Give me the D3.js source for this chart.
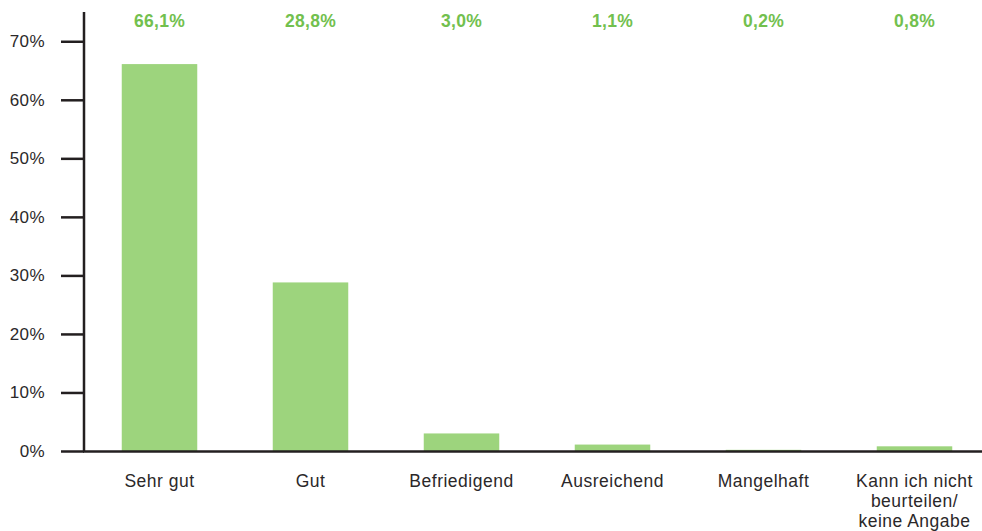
<!DOCTYPE html>
<html>
<head>
<meta charset="utf-8">
<script src="https://cdn.jsdelivr.net/npm/d3@7"></script>
<style>
  body { margin: 0; background: #fff; }
  svg { display: block; font-family: Arial, "Liberation Sans", sans-serif; }
</style>
</head>
<body>
<div id="chart"></div>
<script>
const categories = ["Sehr gut", "Gut", "Befriedigend", "Ausreichend", "Mangelhaft", "Kann ich nicht|beurteilen/|keine Angabe"];
const values = [66.1, 28.8, 3.0, 1.1, 0.2, 0.8];
const valueLabels = ["66,1%", "28,8%", "3,0%", "1,1%", "0,2%", "0,8%"];
const yTicks = [0, 10, 20, 30, 40, 50, 60, 70];

const dimension = {
    width: 982,
    height: 531,
    left: 84,
    bottom: 451,
    top: 12
};

const svg = d3.select("#chart").append("svg")
    .attr("width", dimension.width)
    .attr("height", dimension.height);

const xScaler = d3.scaleBand()
    .domain(categories)
    .range([dimension.left, dimension.left + 6 * 151])
    .paddingInner(0.5)
    .paddingOuter(0.25);

const yScaler = d3.scaleLinear()
    .domain([0, 75])
    .range([dimension.bottom, dimension.top]);

// bars
svg.append("g").selectAll("rect")
    .data(values)
    .join("rect")
    .attr("x", (d, i) => xScaler(categories[i]))
    .attr("width", xScaler.bandwidth())
    .attr("y", d => yScaler(d))
    .attr("height", d => yScaler(0) - yScaler(d))
    .attr("fill", "#9dd47d");

// value labels on top
svg.append("g").selectAll("text")
    .data(valueLabels)
    .join("text")
    .attr("x", (d, i) => xScaler(categories[i]) + xScaler.bandwidth() / 2)
    .attr("y", 27)
    .attr("text-anchor", "middle")
    .attr("font-size", 17.5)
    .attr("letter-spacing", 0.3)
    .attr("font-weight", "bold")
    .attr("fill", "#72c04e")
    .text(d => d);

// y axis
const yAxis = svg.append("g")
    .attr("transform", `translate(${dimension.left},0)`)
    .call(d3.axisLeft(yScaler).tickValues(yTicks).tickSize(23).tickPadding(16).tickFormat(d => d + "%"));
yAxis.select(".domain").remove();
yAxis.selectAll(".tick line").attr("stroke", "#231f20").attr("stroke-width", 2.5);
yAxis.selectAll(".tick text")
    .attr("font-size", 17)
    .attr("letter-spacing", 0.4)
    .attr("fill", "#2b2829")
    .attr("font-family", "Arial, 'Liberation Sans', sans-serif");
yAxis.append("line")
    .attr("x1", 0).attr("x2", 0)
    .attr("y1", dimension.top).attr("y2", dimension.bottom + 1)
    .attr("stroke", "#231f20")
    .attr("stroke-width", 2.5);

// x axis
const xAxis = svg.append("g")
    .attr("transform", `translate(0,${dimension.bottom})`)
    .call(d3.axisBottom(xScaler).tickSize(0).tickPadding(0).tickFormat(""));
xAxis.select(".domain").remove();
xAxis.append("line")
    .attr("x1", dimension.left - 1).attr("x2", dimension.width)
    .attr("y1", 0.5).attr("y2", 0.5)
    .attr("stroke", "#231f20")
    .attr("stroke-width", 2.5);

xAxis.selectAll(".tick text").each(function(d) {
    const t = d3.select(this)
        .text(null)
        .attr("y", 36)
        .attr("dy", 0)
        .attr("font-size", 17.5)
        .attr("letter-spacing", 0.5)
        .attr("fill", "#2b2829")
        .attr("font-family", "Arial, 'Liberation Sans', sans-serif");
    d.split("|").forEach((line, i) => {
        t.append("tspan")
            .attr("x", 0)
            .attr("dy", i === 0 ? 0 : 20)
            .text(line);
    });
});
</script>
</body>
</html>
